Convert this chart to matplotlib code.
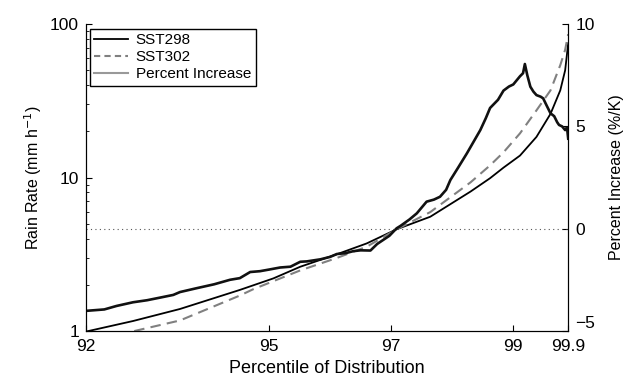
import matplotlib
matplotlib.use('Agg')
import matplotlib.pyplot as plt
from matplotlib.lines import Line2D
from matplotlib.ticker import FixedLocator, NullFormatter

plt.rcParams['font.family'] = ['Liberation Sans', 'DejaVu Sans']

# rain rate curves (percentile, mm/h)
pct_298 = [92.0, 92.77, 93.54, 94.52, 95.07, 95.51, 96.1, 96.6, 97.09, 97.64,
           98.3, 98.62, 98.84, 99.11, 99.38, 99.61, 99.77, 99.85, 99.9]
rain_298 = [0.99, 1.16, 1.39, 1.85, 2.2, 2.62, 3.15, 3.72, 4.6, 5.55,
            8.1, 9.9, 11.6, 13.9, 18.4, 26.0, 37.0, 50.0, 75.0]

pct_302 = [92.0, 92.8, 93.54, 94.52, 94.74, 95.51, 96.1, 96.6, 97.09, 97.64,
           98.3, 98.62, 98.84, 99.11, 99.38, 99.61, 99.77, 99.85, 99.9]
rain_302 = [0.82, 1.0, 1.17, 1.7, 1.87, 2.48, 2.98, 3.54, 4.6, 5.95,
            9.3, 12.0, 14.6, 19.4, 27.4, 37.0, 54.0, 68.0, 86.0]

# percent increase per K
pct_inc = [92.0, 92.3, 92.5, 92.77, 93.0, 93.2, 93.43, 93.54, 93.8, 94.1,
           94.36, 94.52, 94.69, 94.85, 95.0, 95.18, 95.35, 95.51, 95.62, 95.84,
           96.0, 96.11, 96.25, 96.38, 96.5, 96.66, 96.77, 96.87, 96.97, 97.09,
           97.15, 97.3, 97.42, 97.58, 97.7, 97.8, 97.9, 97.97, 98.1, 98.24,
           98.35, 98.46, 98.55, 98.62, 98.75, 98.84, 98.93, 99.0, 99.11, 99.16,
           99.19, 99.23, 99.28, 99.33, 99.38, 99.45, 99.49, 99.55, 99.61, 99.67,
           99.72, 99.75, 99.8, 99.85, 99.88, 99.9]
inc_val = [-4.02, -3.95, -3.78, -3.6, -3.5, -3.38, -3.24, -3.1, -2.92, -2.72,
           -2.5, -2.42, -2.12, -2.08, -2.0, -1.9, -1.86, -1.62, -1.6, -1.5,
           -1.38, -1.24, -1.2, -1.1, -1.06, -1.07, -0.75, -0.55, -0.35, 0.02,
           0.13, 0.45, 0.75, 1.32, 1.42, 1.56, 1.9, 2.38, 3.0, 3.68,
           4.25, 4.82, 5.4, 5.9, 6.3, 6.75, 6.95, 7.05, 7.45, 7.6,
           8.05, 7.5, 6.94, 6.7, 6.53, 6.45, 6.37, 6.0, 5.64, 5.5,
           5.2, 5.07, 5.0, 4.82, 4.95, 4.4]

xticks = [92, 95, 97, 99, 99.9]
xtick_labels = ['92', '95', '97', '99', '99.9']

fig = plt.figure(figsize=(6.37, 3.83), dpi=100)
ax = fig.add_axes([0.135, 0.136, 0.757, 0.801])
ax2 = ax.twinx()

ax.plot(pct_298, rain_298, color='black', lw=1.3)
ax.plot(pct_302, rain_302, color='#808080', lw=1.5, ls=(0, (5, 3)))
ax2.plot(pct_inc, inc_val, color='#111111', lw=1.9)
ax2.axhline(0, color='#555555', lw=0.8, ls=(0, (1, 3)))

ax.set_yscale('log')
ax.set_ylim(1, 100)
ax.set_xlim(92, 99.9)
ax2.set_ylim(-5, 10)
ax2.set_yticks([-5, 0, 5, 10])
ax2.set_yticklabels(['\u22125', '0', '5', '10'])

ax.set_xticks(xticks)
ax.set_xticklabels(xtick_labels)
ax.set_yticks([1, 10, 100])
ax.set_yticklabels(['1', '10', '100'])
ax.yaxis.set_minor_locator(FixedLocator([v * d for d in (1, 10) for v in range(2, 10)]))
ax.yaxis.set_minor_formatter(NullFormatter())

for a in (ax, ax2):
    a.spines['top'].set_visible(False)
    a.tick_params(direction='in', labelsize=12.5, length=4, pad=5)
ax.tick_params(which='minor', direction='in', length=2.5)
ax.tick_params(axis='x', pad=5.5)
ax2.tick_params(axis='y', pad=5)
# lift the -5 label a little, as in the source figure
ax2.get_yticklabels()[0].set_verticalalignment('bottom')

ax.set_xlabel('Percentile of Distribution', fontsize=13, labelpad=5)
ax.set_ylabel('Rain Rate (mm h$^{-1}$)', fontsize=11.5)
ax2.set_ylabel('Percent Increase (%/K)', fontsize=11.5, labelpad=10)

handles = [Line2D([], [], color='black', lw=1.3),
           Line2D([], [], color='#808080', lw=1.5, ls=(0, (3, 2))),
           Line2D([], [], color='#999999', lw=1.5)]
leg = ax2.legend(handles, ['SST298', 'SST302', 'Percent Increase'], loc='upper left',
                 bbox_to_anchor=(0.008, 0.985), fontsize=11, fancybox=False,
                 framealpha=1, edgecolor='black', borderpad=0.3,
                 labelspacing=0.2, handlelength=2.2, handletextpad=0.5,
                 borderaxespad=0)
leg.get_frame().set_linewidth(1.0)

fig.savefig('out.png', dpi=100)
